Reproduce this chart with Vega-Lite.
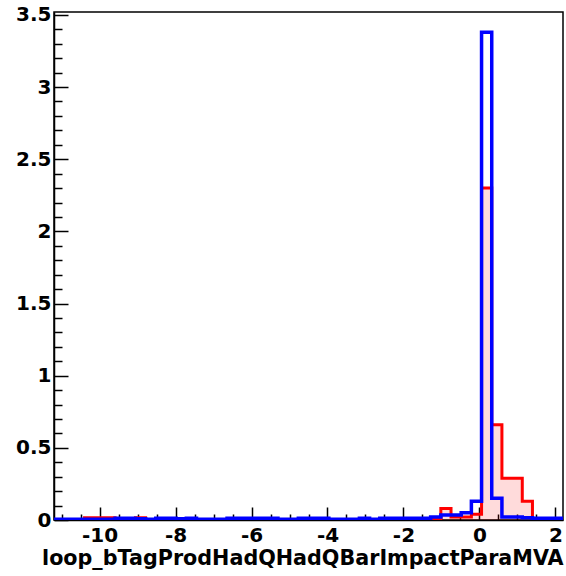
{
  "$schema": "https://vega.github.io/schema/vega-lite/v6.json",
  "width": 509,
  "height": 508,
  "autosize": {"type": "none"},
  "padding": {"left": 54, "top": 12, "right": 3, "bottom": 56},
  "background": "white",
  "config": {
    "view": {"stroke": "black", "strokeWidth": 1.5},
    "axis": {
      "domainColor": "black", "domainWidth": 1.5, "tickColor": "black", "tickWidth": 1.5,
      "grid": false, "labelFont": "DejaVu Sans", "labelFontWeight": "bold", "labelFontSize": 20,
      "labelColor": "black", "titleFont": "DejaVu Sans", "titleFontWeight": "bold", "titleFontSize": 20.7,
      "titleColor": "black", "labelOverlap": false, "labelFlush": false, "labelBound": false
    }
  },
  "data": {"values": [
    {"x": -11.2, "red": 0.004, "blue": 0.005},
    {"x": -10.932, "red": 0.004, "blue": 0.005},
    {"x": -10.664, "red": 0.004, "blue": 0.005},
    {"x": -10.396, "red": 0.015, "blue": 0.005},
    {"x": -10.128, "red": 0.015, "blue": 0.005},
    {"x": -9.86, "red": 0.015, "blue": 0.006},
    {"x": -9.592, "red": 0.004, "blue": 0.012},
    {"x": -9.324, "red": 0.004, "blue": 0.012},
    {"x": -9.056, "red": 0.015, "blue": 0.008},
    {"x": -8.788, "red": 0.004, "blue": 0.005},
    {"x": -8.52, "red": 0.004, "blue": 0.012},
    {"x": -8.252, "red": 0.004, "blue": 0.012},
    {"x": -7.984, "red": 0.004, "blue": 0.008},
    {"x": -7.716, "red": 0.004, "blue": 0.012},
    {"x": -7.448, "red": 0.004, "blue": 0.005},
    {"x": -7.18, "red": 0.004, "blue": 0.005},
    {"x": -6.912, "red": 0.004, "blue": 0.005},
    {"x": -6.644, "red": 0.004, "blue": 0.012},
    {"x": -6.376, "red": 0.004, "blue": 0.012},
    {"x": -6.108, "red": 0.004, "blue": 0.012},
    {"x": -5.84, "red": 0.004, "blue": 0.012},
    {"x": -5.572, "red": 0.004, "blue": 0.012},
    {"x": -5.304, "red": 0.004, "blue": 0.005},
    {"x": -5.036, "red": 0.004, "blue": 0.005},
    {"x": -4.768, "red": 0.004, "blue": 0.012},
    {"x": -4.5, "red": 0.004, "blue": 0.012},
    {"x": -4.232, "red": 0.004, "blue": 0.012},
    {"x": -3.964, "red": 0.004, "blue": 0.005},
    {"x": -3.696, "red": 0.004, "blue": 0.005},
    {"x": -3.428, "red": 0.004, "blue": 0.005},
    {"x": -3.16, "red": 0.004, "blue": 0.012},
    {"x": -2.892, "red": 0.004, "blue": 0.005},
    {"x": -2.624, "red": 0.004, "blue": 0.012},
    {"x": -2.356, "red": 0.004, "blue": 0.012},
    {"x": -2.088, "red": 0.004, "blue": 0.012},
    {"x": -1.82, "red": 0.004, "blue": 0.012},
    {"x": -1.552, "red": 0.004, "blue": 0.012},
    {"x": -1.284, "red": 0.01, "blue": 0.02},
    {"x": -1.016, "red": 0.08, "blue": 0.035},
    {"x": -0.748, "red": 0.02, "blue": 0.035},
    {"x": -0.48, "red": 0.02, "blue": 0.05},
    {"x": -0.212, "red": 0.04, "blue": 0.13},
    {"x": 0.056, "red": 2.3, "blue": 3.38},
    {"x": 0.324, "red": 0.66, "blue": 0.15},
    {"x": 0.592, "red": 0.29, "blue": 0.02},
    {"x": 0.86, "red": 0.29, "blue": 0.02},
    {"x": 1.128, "red": 0.13, "blue": 0.015},
    {"x": 1.396, "red": 0.01, "blue": 0.012},
    {"x": 1.664, "red": 0.005, "blue": 0.012},
    {"x": 1.932, "red": 0.003, "blue": 0.012},
    {"x": 2.2, "red": 0, "blue": 0}
  ]},
  "encoding": {
    "x": {
      "field": "x", "type": "quantitative",
      "scale": {"domain": [-11.2, 2.2], "nice": false, "zero": false},
      "axis": {
        "values": [-11, -10.5, -10, -9.5, -9, -8.5, -8, -7.5, -7, -6.5, -6, -5.5, -5, -4.5, -4, -3.5, -3, -2.5, -2, -1.5, -1, -0.5, 0, 0.5, 1, 1.5, 2],
        "labelExpr": "datum.value % 2 === 0 ? toString(datum.value) : ''",
        "tickSize": {"condition": {"test": "datum.value % 2 === 0", "value": -13}, "value": -6},
        "labelPadding": 18,
        "title": "loop_bTagProdHadQHadQBarImpactParaMVA",
        "titleAnchor": "end",
        "titlePadding": -4
      }
    }
  },
  "layer": [
    {
      "mark": {"type": "area", "interpolate": "step-after", "fill": "#ff0000", "fillOpacity": 0.14, "clip": true},
      "encoding": {
        "y": {"field": "red", "type": "quantitative", "scale": {"domain": [0, 3.52], "nice": false},
          "axis": {
            "values": [0, 0.1, 0.2, 0.3, 0.4, 0.5, 0.6, 0.7, 0.8, 0.9, 1, 1.1, 1.2, 1.3, 1.4, 1.5, 1.6, 1.7, 1.8, 1.9, 2, 2.1, 2.2, 2.3, 2.4, 2.5, 2.6, 2.7, 2.8, 2.9, 3, 3.1, 3.2, 3.3, 3.4, 3.5],
            "labelExpr": "abs(datum.value * 2 - round(datum.value * 2)) < 0.000001 ? toString(datum.value) : ''",
            "tickSize": {"condition": {"test": "abs(datum.value * 2 - round(datum.value * 2)) < 0.000001", "value": -14}, "value": -8},
            "labelPadding": 17,
            "title": null
          }
        }
      }
    },
    {
      "mark": {"type": "line", "interpolate": "step-after", "color": "#ff0000", "strokeWidth": 3, "clip": true},
      "encoding": {"y": {"field": "red", "type": "quantitative",
          "axis": {
            "values": [0, 0.1, 0.2, 0.3, 0.4, 0.5, 0.6, 0.7, 0.8, 0.9, 1, 1.1, 1.2, 1.3, 1.4, 1.5, 1.6, 1.7, 1.8, 1.9, 2, 2.1, 2.2, 2.3, 2.4, 2.5, 2.6, 2.7, 2.8, 2.9, 3, 3.1, 3.2, 3.3, 3.4, 3.5],
            "labelExpr": "abs(datum.value * 2 - round(datum.value * 2)) < 0.000001 ? toString(datum.value) : ''",
            "tickSize": {"condition": {"test": "abs(datum.value * 2 - round(datum.value * 2)) < 0.000001", "value": -14}, "value": -8},
            "labelPadding": 17,
            "title": null
          }}}
    },
    {
      "mark": {"type": "line", "interpolate": "step-after", "color": "#0000ff", "strokeWidth": 3.5, "clip": true},
      "encoding": {"y": {"field": "blue", "type": "quantitative",
          "axis": {
            "values": [0, 0.1, 0.2, 0.3, 0.4, 0.5, 0.6, 0.7, 0.8, 0.9, 1, 1.1, 1.2, 1.3, 1.4, 1.5, 1.6, 1.7, 1.8, 1.9, 2, 2.1, 2.2, 2.3, 2.4, 2.5, 2.6, 2.7, 2.8, 2.9, 3, 3.1, 3.2, 3.3, 3.4, 3.5],
            "labelExpr": "abs(datum.value * 2 - round(datum.value * 2)) < 0.000001 ? toString(datum.value) : ''",
            "tickSize": {"condition": {"test": "abs(datum.value * 2 - round(datum.value * 2)) < 0.000001", "value": -14}, "value": -8},
            "labelPadding": 17,
            "title": null
          }}}
    }
  ]
}
